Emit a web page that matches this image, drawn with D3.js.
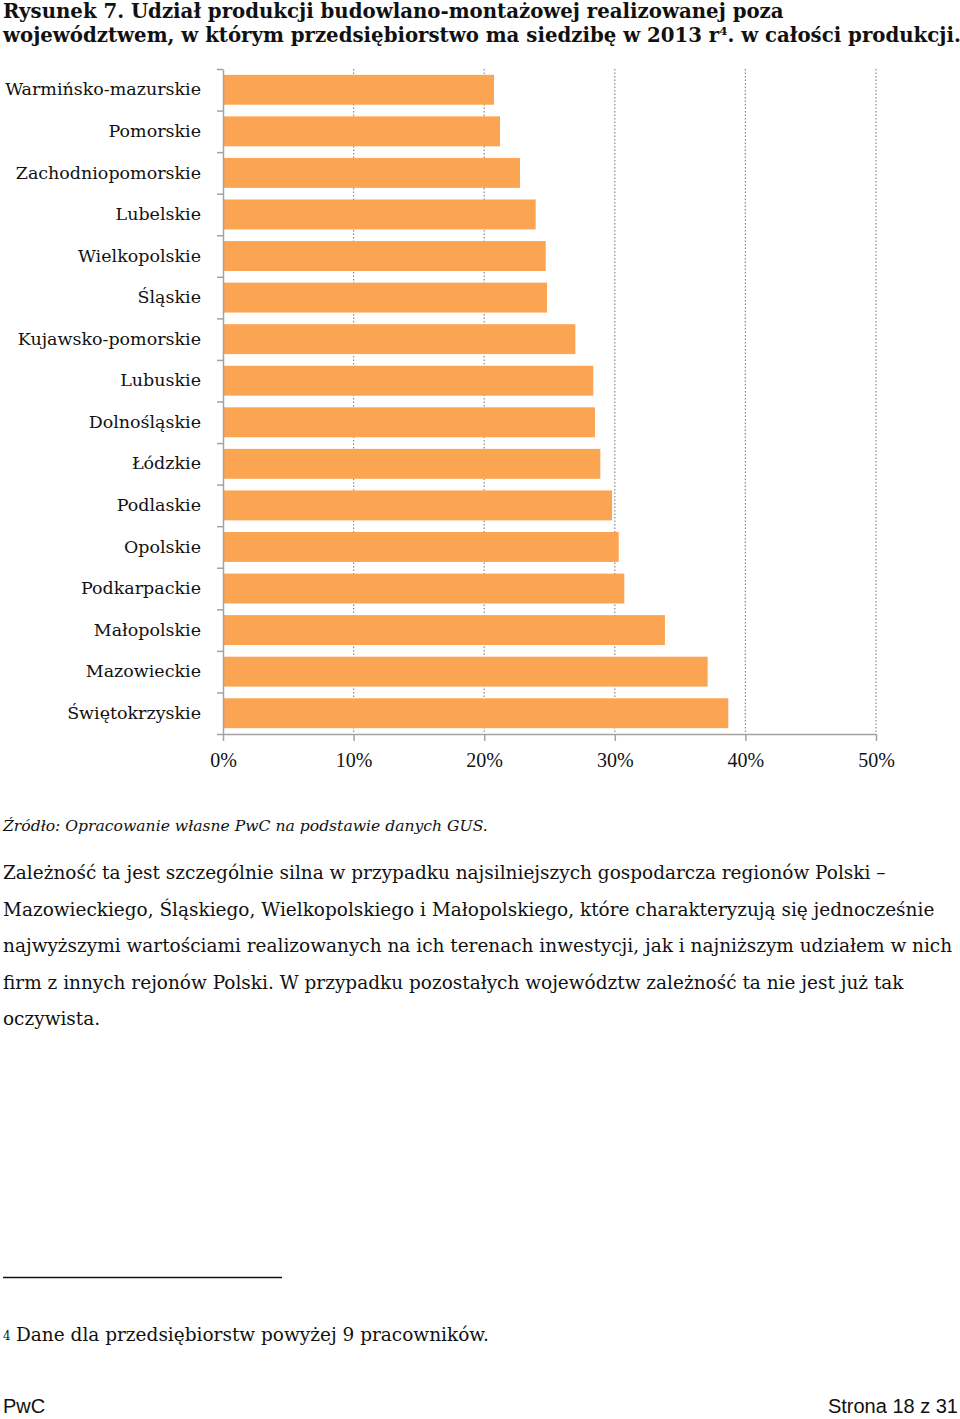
<!DOCTYPE html>
<html>
<head>
<meta charset="utf-8">
<script src="https://cdn.jsdelivr.net/npm/d3@7"></script>
<style>
	body { margin: 0; background: #ffffff; }
	.serif { font-family: "DejaVu Serif", Georgia, serif; fill: #111111; }
	.tickLabel { font-family: "Liberation Serif", serif; font-size: 20px; fill: #111111; }
	.footer { font-family: "Liberation Sans", Arial, sans-serif; font-size: 20px; fill: #111111; }
</style>
</head>
<body>
<script>
//udzial produkcji poza wojewodztwem siedziby, 2013

var regions = ["Warmińsko-mazurskie", "Pomorskie", "Zachodniopomorskie", "Lubelskie", "Wielkopolskie",
	"Śląskie", "Kujawsko-pomorskie", "Lubuskie", "Dolnośląskie", "Łódzkie", "Podlaskie", "Opolskie",
	"Podkarpackie", "Małopolskie", "Mazowieckie", "Świętokrzyskie"];
var shares = [0.2075, 0.2121, 0.2274, 0.2394, 0.2471, 0.2481, 0.2698, 0.2835, 0.2848, 0.2889,
	0.2979, 0.3030, 0.3073, 0.3384, 0.3711, 0.3869];
var tickValues = [0, 0.1, 0.2, 0.3, 0.4, 0.5];

var titleLines = ["Rysunek 7. Udział produkcji budowlano-montażowej realizowanej poza",
	"województwem, w którym przedsiębiorstwo ma siedzibę w 2013 r"];
var sourceText = "Źródło: Opracowanie własne PwC na podstawie danych GUS.";
var bodyLines = ["Zależność ta jest szczególnie silna w przypadku najsilniejszych gospodarcza regionów Polski –",
	"Mazowieckiego, Śląskiego, Wielkopolskiego i Małopolskiego, które charakteryzują się jednocześnie",
	"najwyższymi wartościami realizowanych na ich terenach inwestycji, jak i najniższym udziałem w nich",
	"firm z innych rejonów Polski. W przypadku pozostałych województw zależność ta nie jest już tak",
	"oczywista."];
var footnoteText = "Dane dla przedsiębiorstw powyżej 9 pracowników.";

var WIDTH = 960;
var HEIGHT = 1419;
var PLOT_LEFT = 223;
var PLOT_RIGHT = 876;
var PLOT_TOP = 69;
var PLOT_BOTTOM = 734;
var BAR_COLOR = "#FBA552";
var AXIS_COLOR = "#a3a3a3";

var svg = d3.select("body").append("svg")
	.attr("width", WIDTH)
	.attr("height", HEIGHT);

//scale font size so a text node spans the wanted width
function fitFont(sel, targetWidth) {
	var size = parseFloat(sel.attr("font-size"));
	var w = sel.node().getComputedTextLength();
	var newSize = size * targetWidth / w;
	sel.attr("font-size", newSize);
	return newSize;
}

//title
var title1 = svg.append("text")
	.attr("class", "serif")
	.attr("x", 3)
	.attr("y", 18)
	.attr("font-size", 20)
	.attr("font-weight", "bold")
	.text(titleLines[0]);
var titleSize = fitFont(title1, 781);

var title2 = svg.append("text")
	.attr("class", "serif")
	.attr("x", 3)
	.attr("y", 42)
	.attr("font-size", titleSize)
	.attr("font-weight", "bold");
title2.append("tspan").text(titleLines[1]);
title2.append("tspan")
	.attr("font-size", titleSize * 0.6)
	.attr("dy", -7)
	.text("4");
title2.append("tspan")
	.attr("dy", 7)
	.text(". w całości produkcji.");

//scales
var x = d3.scaleLinear()
	.domain([0, 0.5])
	.range([PLOT_LEFT, PLOT_RIGHT]);

var y = d3.scaleBand()
	.domain(regions)
	.range([PLOT_TOP, PLOT_BOTTOM])
	.paddingInner(0.28)
	.paddingOuter(0.14);

var yEdges = d3.scaleLinear()
	.domain([0, regions.length])
	.range([PLOT_TOP, PLOT_BOTTOM]);

//dotted grid
svg.append("g")
	.selectAll("line")
	.data(tickValues.slice(1))
	.enter()
	.append("line")
	.attr("x1", function(d) { return x(d); })
	.attr("x2", function(d) { return x(d); })
	.attr("y1", PLOT_TOP)
	.attr("y2", PLOT_BOTTOM)
	.attr("stroke", "#8a8a8a")
	.attr("stroke-width", 1.2)
	.attr("stroke-dasharray", "1.5,2");

//bars
svg.append("g")
	.selectAll("rect")
	.data(regions)
	.enter()
	.append("rect")
	.attr("x", x(0) + 1)
	.attr("y", function(d) { return y(d); })
	.attr("width", function(d, i) { return x(shares[i]) - x(0) - 1; })
	.attr("height", y.bandwidth())
	.attr("fill", BAR_COLOR);

//bottom axis
var xAxis = svg.append("g")
	.attr("transform", "translate(0," + PLOT_BOTTOM + ")")
	.call(d3.axisBottom(x)
		.tickValues(tickValues)
		.tickFormat(d3.format(".0%"))
		.tickSize(7)
		.tickSizeOuter(0)
		.tickPadding(12));
xAxis.select(".domain").attr("stroke", AXIS_COLOR).attr("stroke-width", 1.5);
xAxis.selectAll(".tick line").attr("stroke", AXIS_COLOR).attr("stroke-width", 1.5);
xAxis.selectAll(".tick text")
	.attr("class", "tickLabel")
	.attr("font-family", null)
	.attr("font-size", null);
xAxis.attr("font-family", null).attr("font-size", null);

//left axis: ticks at band edges
var edgeAxis = svg.append("g")
	.attr("transform", "translate(" + PLOT_LEFT + ",0)")
	.call(d3.axisLeft(yEdges)
		.tickValues(d3.range(regions.length + 1))
		.tickFormat("")
		.tickSize(6)
		.tickSizeOuter(0));
edgeAxis.select(".domain").attr("stroke", AXIS_COLOR).attr("stroke-width", 1.5);
edgeAxis.selectAll(".tick line").attr("stroke", AXIS_COLOR).attr("stroke-width", 1.5);

//category labels
var labelAxis = svg.append("g")
	.attr("transform", "translate(" + PLOT_LEFT + ",0)")
	.call(d3.axisLeft(y)
		.tickSize(0)
		.tickPadding(22));
labelAxis.select(".domain").remove();
labelAxis.attr("font-family", null).attr("font-size", null);
labelAxis.selectAll(".tick text")
	.attr("class", "serif")
	.attr("font-size", 17);
var labelSize = fitFont(labelAxis.select(".tick text"), 196);
labelAxis.selectAll(".tick text").attr("font-size", labelSize);

//source
var source = svg.append("text")
	.attr("class", "serif")
	.attr("x", 3)
	.attr("y", 831)
	.attr("font-size", 17)
	.attr("font-style", "italic")
	.text(sourceText);
fitFont(source, 485);

//body text
var body = svg.append("g");
body.selectAll("text")
	.data(bodyLines)
	.enter()
	.append("text")
	.attr("class", "serif")
	.attr("x", 3)
	.attr("y", function(d, i) { return 879 + i * 36.6; })
	.attr("font-size", 19)
	.text(function(d) { return d; });
var bodySize = fitFont(body.selectAll("text").filter(function(d, i) { return i == 2; }), 950);
body.selectAll("text").attr("font-size", bodySize);

//footnote
svg.append("line")
	.attr("x1", 3)
	.attr("x2", 282)
	.attr("y1", 1277.5)
	.attr("y2", 1277.5)
	.attr("stroke", "#111111")
	.attr("stroke-width", 1.5);

svg.append("text")
	.attr("class", "serif")
	.attr("x", 3)
	.attr("y", 1340)
	.attr("font-size", 12)
	.text("4");

var footnote = svg.append("text")
	.attr("class", "serif")
	.attr("x", 16)
	.attr("y", 1341)
	.attr("font-size", 19)
	.text(footnoteText);
fitFont(footnote, 473);

//page footer
svg.append("text")
	.attr("class", "footer")
	.attr("x", 3)
	.attr("y", 1413)
	.text("PwC");

svg.append("text")
	.attr("class", "footer")
	.attr("x", 958)
	.attr("y", 1413)
	.attr("text-anchor", "end")
	.text("Strona 18 z 31");
</script>
</body>
</html>
